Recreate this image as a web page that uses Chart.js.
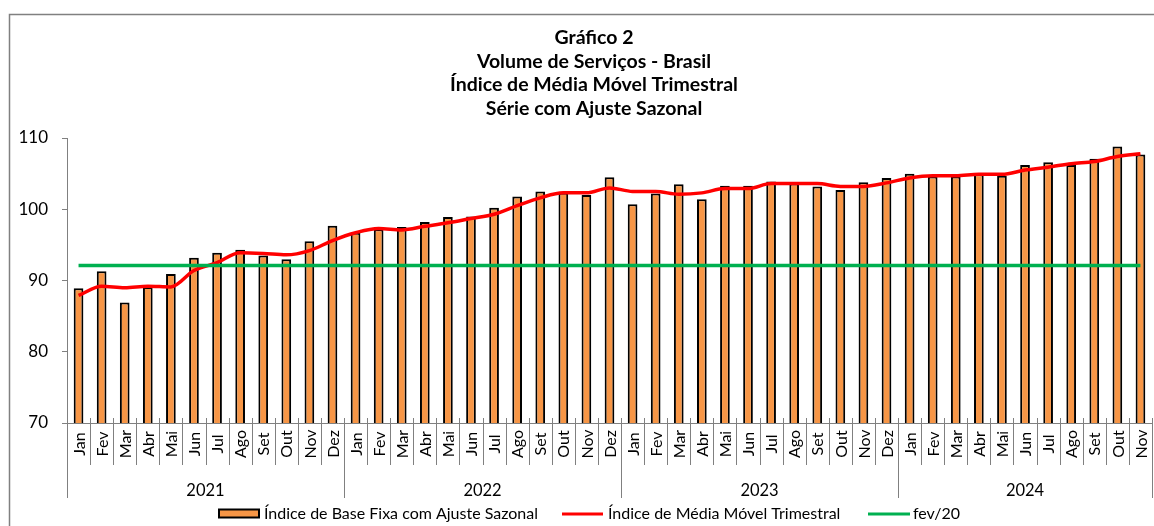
<!DOCTYPE html>
<html>
<head>
<meta charset="utf-8">
<script src="https://cdn.jsdelivr.net/npm/chart.js@4.4.1/dist/chart.umd.min.js"></script>
<style>
  html, body { margin: 0; padding: 0; background: #fff; }
  #wrap { width: 1154px; height: 526px; position: relative; }
</style>
</head>
<body>
<div id="wrap"><canvas id="chart" width="1154" height="526"></canvas></div>
<script>
const FONT = 'Lato, "Open Sans", sans-serif';

const titleLines = ['Gráfico 2', 'Volume de Serviços - Brasil', 'Índice de Média Móvel Trimestral', 'Série com Ajuste Sazonal'];
const months = ['Jan', 'Fev', 'Mar', 'Abr', 'Mai', 'Jun', 'Jul', 'Ago', 'Set', 'Out', 'Nov', 'Dez'];
const years = ['2021', '2022', '2023', '2024'];
const yTicks = [70, 80, 90, 100, 110];

const indiceBase = [
    88.9, 91.3, 86.9, 89.1, 90.9, 93.2, 93.9, 94.3, 93.5, 93.0, 95.5, 97.7,
    96.7, 97.2, 97.5, 98.2, 98.9, 99.0, 100.2, 101.8, 102.5, 102.3, 102.0, 104.5,
    100.7, 102.2, 103.5, 101.4, 103.3, 103.3, 103.9, 103.6, 103.2, 102.7, 103.8, 104.4,
    105.0, 104.6, 104.6, 104.9, 104.7, 106.2, 106.6, 106.2, 107.1, 108.8, 107.7
];
const mediaMovel = [
    87.9, 89.2, 89.0, 89.2, 89.1, 91.4, 92.5, 93.9, 93.8, 93.6, 94.2, 95.6,
    96.7, 97.3, 97.1, 97.6, 98.1, 98.7, 99.3, 100.5, 101.6, 102.3, 102.3, 103.0,
    102.5, 102.5, 102.1, 102.3, 102.9, 102.9, 103.6, 103.6, 103.6, 103.2, 103.2, 103.7,
    104.4, 104.7, 104.7, 104.9, 104.9, 105.5, 105.9, 106.4, 106.7, 107.4, 107.8
];
const fev20 = [
    92.1, 92.1, 92.1, 92.1, 92.1, 92.1, 92.1, 92.1, 92.1, 92.1, 92.1, 92.1,
    92.1, 92.1, 92.1, 92.1, 92.1, 92.1, 92.1, 92.1, 92.1, 92.1, 92.1, 92.1,
    92.1, 92.1, 92.1, 92.1, 92.1, 92.1, 92.1, 92.1, 92.1, 92.1, 92.1, 92.1,
    92.1, 92.1, 92.1, 92.1, 92.1, 92.1, 92.1, 92.1, 92.1, 92.1, 92.1
];
const seriesNames = ['Índice de Base Fixa com Ajuste Sazonal', 'Índice de Média Móvel Trimestral', 'fev/20'];

// month/year pairs for each bar
const labels = indiceBase.map((v, i) => [months[i % 12], years[Math.floor(i / 12)]]);

const ORANGE = '#F79646';
const RED = '#FF0000';
const GREEN = '#00B050';
const AXIS = '#808080';

// frame, title, two-level x axis and legend
const decor = {
    id: 'decor',
    beforeDraw(chart) {
        const ctx = chart.ctx;
        ctx.save();
        ctx.fillStyle = '#fff';
        ctx.fillRect(0, 0, chart.width, chart.height);
        ctx.strokeStyle = AXIS;
        ctx.lineWidth = 1.5;
        ctx.strokeRect(9.5, 14.5, 1170, 540);
        ctx.restore();
    },
    afterDraw(chart) {
        const ctx = chart.ctx;
        const x = chart.scales.x;
        const area = chart.chartArea;
        const base = area.bottom;
        const step = x.getPixelForValue(1) - x.getPixelForValue(0);
        ctx.save();

        // title
        ctx.fillStyle = '#000';
        ctx.textAlign = 'center';
        ctx.textBaseline = 'alphabetic';
        ctx.font = 'bold 19.5px ' + FONT;
        const tY = [44, 67.5, 91, 114.5];
        titleLines.forEach((t, i) => ctx.fillText(t, 594, tY[i]));

        // category separators
        ctx.strokeStyle = AXIS;
        ctx.lineWidth = 1;
        for (let i = 0; i <= labels.length; i++) {
            const px = Math.round(x.getPixelForValue(i) - step / 2) + 0.5;
            const yearEdge = i % 12 === 0 || i === labels.length;
            ctx.beginPath();
            ctx.moveTo(px, base - 5);
            ctx.lineTo(px, yearEdge ? base + 75 : base + 42);
            ctx.stroke();
        }

        // month labels
        ctx.fillStyle = '#000';
        ctx.font = '16px ' + FONT;
        ctx.textAlign = 'center';
        ctx.textBaseline = 'middle';
        labels.forEach((l, i) => {
            const px = x.getPixelForValue(i);
            ctx.save();
            ctx.translate(px + 1, base + 21);
            ctx.rotate(-Math.PI / 2);
            ctx.fillText(l[0], 0, 0);
            ctx.restore();
        });

        // year labels
        ctx.font = '16.5px ' + FONT;
        years.forEach((yr, k) => {
            const first = k * 12;
            const last = Math.min(first + 11, labels.length - 1);
            const left = x.getPixelForValue(first) - step / 2;
            const right = x.getPixelForValue(last) + step / 2;
            ctx.fillText(yr, (left + right) / 2, base + 68);
        });

        // legend
        const ly = 514;
        ctx.font = '16px ' + FONT;
        ctx.textAlign = 'left';
        ctx.fillStyle = ORANGE;
        ctx.fillRect(219, 509.5, 40, 8);
        ctx.strokeStyle = '#000';
        ctx.lineWidth = 2;
        ctx.strokeRect(219, 509.5, 40, 8);
        ctx.fillStyle = '#000';
        ctx.fillText(seriesNames[0], 264, ly);

        ctx.lineWidth = 3;
        ctx.strokeStyle = RED;
        ctx.beginPath(); ctx.moveTo(562, ly); ctx.lineTo(603, ly); ctx.stroke();
        ctx.fillText(seriesNames[1], 608, ly);

        ctx.strokeStyle = GREEN;
        ctx.beginPath(); ctx.moveTo(868, ly); ctx.lineTo(910, ly); ctx.stroke();
        ctx.fillText(seriesNames[2], 913, ly);

        ctx.restore();
    }
};

new Chart(document.getElementById('chart'), {
    type: 'bar',
    data: {
        labels: labels,
        datasets: [
            {
                type: 'line',
                label: seriesNames[2],
                data: fev20,
                borderColor: GREEN,
                borderWidth: 3.5,
                pointRadius: 0,
                tension: 0,
                order: 1
            },
            {
                type: 'line',
                label: seriesNames[1],
                data: mediaMovel,
                borderColor: RED,
                borderWidth: 3.5,
                pointRadius: 0,
                tension: 0.35,
                cubicInterpolationMode: 'monotone',
                order: 2
            },
            {
                label: seriesNames[0],
                data: indiceBase,
                backgroundColor: ORANGE,
                borderColor: '#000',
                borderWidth: 2,
                borderSkipped: 'bottom',
                barPercentage: 0.42,
                categoryPercentage: 1,
                order: 3
            }
        ]
    },
    options: {
        responsive: false,
        animation: false,
        devicePixelRatio: 1,
        layout: { padding: { top: 138, right: 2, left: 0, bottom: 0 } },
        plugins: {
            legend: { display: false },
            title: { display: false },
            tooltip: { enabled: false }
        },
        scales: {
            x: {
                offset: true,
                grid: { display: false },
                border: { display: true, color: AXIS, width: 1 },
                ticks: { display: false },
                afterFit(scale) { scale.height = 103; }
            },
            y: {
                min: 70,
                max: 110,
                afterBuildTicks(scale) { scale.ticks = yTicks.map(v => ({ value: v })); },
                grid: { display: true, drawOnChartArea: false, drawTicks: true, tickLength: 5, color: AXIS },
                border: { display: true, color: AXIS, width: 1 },
                ticks: { color: '#000', padding: 14, font: { family: FONT, size: 17 } },
                afterFit(scale) { scale.width = 67; }
            }
        }
    },
    plugins: [decor]
});
</script>
</body>
</html>
